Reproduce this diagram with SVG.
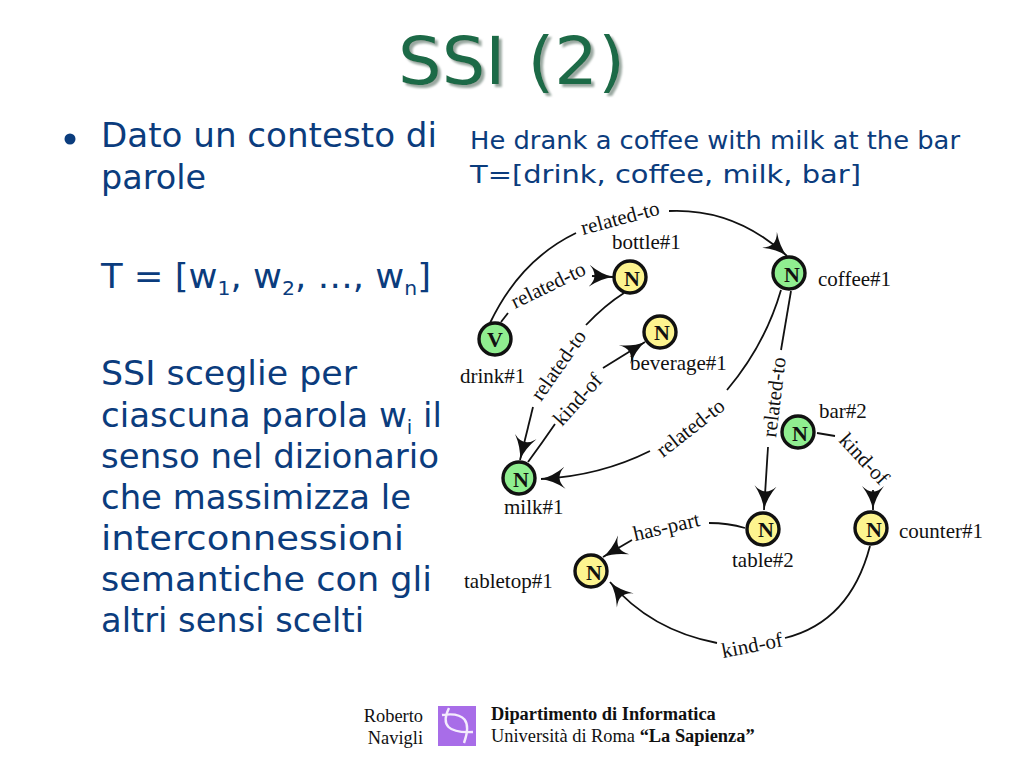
<svg xmlns="http://www.w3.org/2000/svg" width="1024" height="768" viewBox="0 0 1024 768">
<style>
.t{font-family:"DejaVu Sans",Verdana,sans-serif;fill:#0b3c7d}
.b{font-size:33px}
.r{font-size:25px}
.s{font-family:"Liberation Serif","Times New Roman",serif;fill:#111}
.l{font-size:21px}
.e{fill:none;stroke:#111;stroke-width:1.8}
.c{stroke:#111;stroke-width:3.4}
.g{fill:#90ee90}
.y{fill:#fdf48f}
.n{font-family:"Liberation Serif",serif;font-weight:bold;font-size:22px;fill:#111;text-anchor:middle}
.f{font-family:"Liberation Serif",serif;fill:#111;font-size:18.4px}
</style>
<defs>
<marker id="a" markerUnits="userSpaceOnUse" markerWidth="28" markerHeight="28" refX="24" refY="12" viewBox="0 0 28 24" orient="auto">
<path d="M0,1 Q12,10 24,12 Q12,14 0,23 Q11,12 0,1 Z" fill="#111"/>
</marker>
<filter id="sh" x="-5%" y="-5%" width="115%" height="125%"><feDropShadow dx="3" dy="3" stdDeviation="1.2" flood-color="#9aa8a0"/></filter>
</defs>
<rect width="1024" height="768" fill="#fff"/>
<text id="title" x="398" y="84" textLength="227" lengthAdjust="spacingAndGlyphs" font-family="'DejaVu Sans',Verdana,sans-serif" font-size="65" fill="#1f6a47" filter="url(#sh)">SSI (2)</text>
<g id="body" class="t b">
<circle cx="70" cy="139" r="5.5" fill="#0b3c7d"/>
<text x="101" y="147" textLength="336" lengthAdjust="spacingAndGlyphs">Dato un contesto di</text>
<text x="101" y="189" textLength="105" lengthAdjust="spacingAndGlyphs">parole</text>
<text x="101" y="288" textLength="330" lengthAdjust="spacingAndGlyphs">T = [w<tspan font-size="19" dy="7">1</tspan><tspan dy="-7">, w</tspan><tspan font-size="19" dy="7">2</tspan><tspan dy="-7">, …, w</tspan><tspan font-size="19" dy="7">n</tspan><tspan dy="-7">]</tspan></text>
<text x="101" y="385" textLength="256" lengthAdjust="spacingAndGlyphs">SSI sceglie per</text>
<text x="101" y="427" textLength="341" lengthAdjust="spacingAndGlyphs">ciascuna parola w<tspan font-size="19" dy="7">i</tspan><tspan dy="-7"> il</tspan></text>
<text x="101" y="468" textLength="338" lengthAdjust="spacingAndGlyphs">senso nel dizionario</text>
<text x="101" y="509" textLength="310" lengthAdjust="spacingAndGlyphs">che massimizza le</text>
<text x="101" y="550" textLength="303" lengthAdjust="spacingAndGlyphs">interconnessioni</text>
<text x="101" y="591" textLength="331" lengthAdjust="spacingAndGlyphs">semantiche con gli</text>
<text x="101" y="632" textLength="263" lengthAdjust="spacingAndGlyphs">altri sensi scelti</text>
</g>
<g id="sentence" class="t r">
<text x="470" y="149" textLength="490" lengthAdjust="spacingAndGlyphs">He drank a coffee with milk at the bar</text>
<text x="470" y="183" textLength="391" lengthAdjust="spacingAndGlyphs">T=[drink, coffee, milk, bar]</text>
</g>
<g id="connectors">
<path class="e" d="M490,323 Q520,260 576,233"/>
<path class="e" d="M669,211 Q735,208 787,256" marker-end="url(#a)"/>
<path class="e" d="M501,322 L508,313"/>
<path class="e" d="M592,276 L613,277" marker-end="url(#a)"/>
<path class="e" d="M624,293 Q605,305 586,325"/>
<path class="e" d="M533,407 L520,460" marker-end="url(#a)"/>
<path class="e" d="M528,462 Q542,443 555,424"/>
<path class="e" d="M603,368 L645,342" marker-end="url(#a)"/>
<path class="e" d="M781,290 Q765,345 727,390"/>
<path class="e" d="M650,451 Q600,476 541,479" marker-end="url(#a)"/>
<path class="e" d="M791,291 L781,350"/>
<path class="e" d="M768,447 L764,510" marker-end="url(#a)"/>
<path class="e" d="M817,433 L835,436"/>
<path class="e" d="M873,490 L873,510" marker-end="url(#a)"/>
<path class="e" d="M745,528 Q728,523 709,523"/>
<path class="e" d="M632,540 L603,557" marker-end="url(#a)"/>
<path class="e" d="M870,546 Q850,622 785,638"/>
<path class="e" d="M717,643 Q650,630 610,582" marker-end="url(#a)"/>
</g>
<g id="edge-labels" class="s l">
<text transform="translate(583,235) rotate(-15)">related-to</text>
<text transform="translate(515,309) rotate(-26)">related-to</text>
<text transform="translate(541,402) rotate(-55)">related-to</text>
<text transform="translate(562,427) rotate(-48)">kind-of</text>
<text transform="translate(663,458) rotate(-38)">related-to</text>
<text transform="translate(776,438) rotate(-83)">related-to</text>
<text transform="translate(838,441) rotate(47)">kind-of</text>
<text transform="translate(635,541) rotate(-13)">has-part</text>
<text transform="translate(723,658) rotate(-11)">kind-of</text>
</g>
<g id="drink"><circle class="c g" cx="495" cy="339" r="16"/><text class="n" x="495" y="347">V</text><text class="s l" x="460" y="383">drink#1</text></g>
<g id="bottle"><circle class="c y" cx="630" cy="277" r="16"/><text class="n" x="632" y="286">N</text><text class="s l" x="612" y="249">bottle#1</text></g>
<g id="beverage"><circle class="c y" cx="660" cy="332" r="16"/><text class="n" x="662" y="340">N</text><text class="s l" x="630" y="370">beverage#1</text></g>
<g id="coffee"><circle class="c g" cx="789" cy="273" r="16"/><text class="n" x="792" y="282">N</text><text class="s l" x="818" y="286">coffee#1</text></g>
<g id="bar"><circle class="c g" cx="798" cy="432" r="16"/><text class="n" x="800" y="441">N</text><text class="s l" x="819" y="418">bar#2</text></g>
<g id="milk"><circle class="c g" cx="519" cy="478" r="16"/><text class="n" x="521" y="487">N</text><text class="s l" x="504" y="514">milk#1</text></g>
<g id="table"><circle class="c y" cx="763" cy="529" r="16"/><text class="n" x="766" y="537">N</text><text class="s l" x="732" y="567">table#2</text></g>
<g id="counter"><circle class="c y" cx="871" cy="528" r="16"/><text class="n" x="874" y="537">N</text><text class="s l" x="899" y="538">counter#1</text></g>
<g id="tabletop"><circle class="c y" cx="591" cy="571" r="16"/><text class="n" x="594" y="580">N</text><text class="s l" x="464" y="588">tabletop#1</text></g>
<g id="footer">
<text class="f" x="423" y="722" text-anchor="end">Roberto</text>
<text class="f" x="423" y="744" text-anchor="end">Navigli</text>
<rect x="438" y="706" width="38" height="40" fill="#a86de8"/>
<path d="M449,708 Q436,734 473,732 M442,715 Q476,710 464,743" fill="none" stroke="#f4ecfd" stroke-width="2.4"/>
<text class="f" x="491" y="720" font-weight="bold">Dipartimento di Informatica</text>
<text class="f" x="491" y="742">Università di Roma <tspan font-weight="bold">“La Sapienza”</tspan></text>
</g>
</svg>
